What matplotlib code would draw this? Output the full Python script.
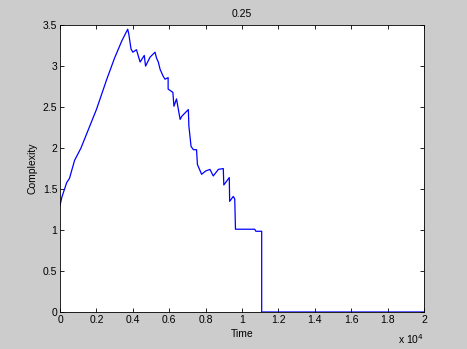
import matplotlib
matplotlib.use("Agg")
import matplotlib.pyplot as plt
from matplotlib.ticker import FuncFormatter

time = [0, 100, 370, 520, 800, 1150, 2000, 2570, 3000, 3400, 3720, 3780,
        3900, 4000, 4200, 4400, 4630, 4700, 4950, 5220, 5300, 5400, 5500,
        5660, 5770, 5940, 5940, 6200, 6260, 6400, 6600, 6700, 7050, 7080,
        7200, 7330, 7500, 7550, 7780, 8000, 8240, 8420, 8700, 8970, 9000,
        9300, 9320, 9520, 9600, 9640, 10700, 10760, 11080, 11080, 20000]
complexity = [1.30, 1.40, 1.58, 1.63, 1.85, 2.00, 2.47, 2.84, 3.10, 3.31,
              3.45, 3.39, 3.21, 3.17, 3.20, 3.05, 3.13, 3.00, 3.11, 3.17,
              3.10, 3.05, 2.96, 2.88, 2.84, 2.86, 2.72, 2.68, 2.51, 2.60,
              2.35, 2.39, 2.47, 2.27, 2.02, 1.98, 1.98, 1.80, 1.68, 1.72,
              1.74, 1.66, 1.74, 1.75, 1.55, 1.64, 1.35, 1.41, 1.38, 1.01,
              1.01, 0.985, 0.985, 0.0, 0.0]

xticks = [0, 2000, 4000, 6000, 8000, 10000, 12000, 14000, 16000, 18000, 20000]
yticks = [0, 0.5, 1, 1.5, 2, 2.5, 3, 3.5]

plt.rcParams['font.family'] = ['Liberation Sans', 'DejaVu Sans']
plt.rcParams['font.size'] = 7.5

fig = plt.figure(figsize=(4.67, 3.49), dpi=100, facecolor='#cccccc')
ax = fig.add_axes([0.1285, 0.106, 0.7795, 0.822])
ax.plot(time, complexity, color='#0000ff', linewidth=0.9)

ax.set_xlim(0, 20000)
ax.set_ylim(0, 3.5)
ax.set_xticks(xticks)
ax.set_yticks(yticks)
ax.xaxis.set_major_formatter(FuncFormatter(lambda v, p: '%g' % (v / 1e4)))
ax.yaxis.set_major_formatter(FuncFormatter(lambda v, p: '%g' % v))
ax.tick_params(direction='in', top=True, right=True, length=3, width=0.6,
               pad=2, labelsize=7.5)
for s in ax.spines.values():
    s.set_linewidth(0.6)

ax.set_title('0.25', fontsize=7.5, pad=6)
ax.set_xlabel('Time', labelpad=3)
ax.set_ylabel('Complexity', labelpad=4)
fig.text(0.853, 0.014, 'x 10$^4$', fontsize=7.5, ha='left')

fig.savefig('out.png', dpi=100, facecolor=fig.get_facecolor())
